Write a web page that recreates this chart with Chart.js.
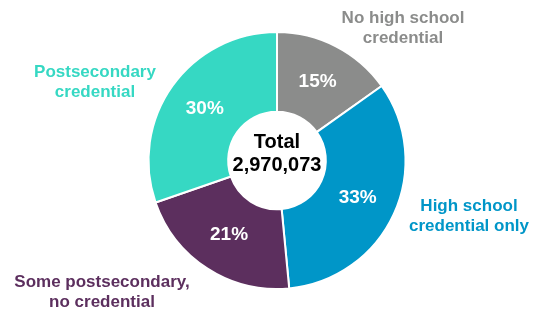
<!DOCTYPE html>
<html>
<head>
<meta charset="utf-8">
<script src="https://cdn.jsdelivr.net/npm/chart.js@4"></script>
<style>
  body { margin: 0; background: #fff; }
</style>
</head>
<body>
<canvas id="chart" width="533" height="311"></canvas>
<script>
// data
const labels = ["No high school credential", "High school credential only", "Some postsecondary, no credential", "Postsecondary credential"];
const labelLines = [["No high school", "credential"], ["High school", "credential only"], ["Some postsecondary,", "no credential"], ["Postsecondary", "credential"]];
const shares = [15, 33, 21, 30];
const colors = ["#8b8c8b", "#0096c8", "#5c2f5e", "#36d8c3"];
const totalText = ["Total", "2,970,073"];

// where each outside label sits (centre of its first line)
const labelPos = [[403, 18], [469, 206], [102, 282], [95, 72]];

const FONT = "Arial, 'Liberation Sans', sans-serif";

const textPlugin = {
  id: "texts",
  afterDatasetsDraw(chart) {
    const ctx = chart.ctx;
    const meta = chart.getDatasetMeta(0);
    ctx.save();
    ctx.textAlign = "center";
    ctx.textBaseline = "middle";

    // percentages on the slices
    ctx.font = "bold 19px " + FONT;
    ctx.fillStyle = "#fff";
    meta.data.forEach((arc, i) => {
      const p = arc.tooltipPosition();
      ctx.fillText(shares[i] + "%", p.x, p.y);
    });

    // total in the hole
    const c = meta.data[0];
    ctx.font = "bold 20px " + FONT;
    ctx.fillStyle = "#000";
    ctx.fillText(totalText[0], c.x, c.y - 18);
    ctx.fillText(totalText[1], c.x, c.y + 5);

    // category labels outside
    ctx.font = "bold 17px " + FONT;
    labelLines.forEach((lines, i) => {
      ctx.fillStyle = colors[i];
      lines.forEach((t, j) => ctx.fillText(t, labelPos[i][0], labelPos[i][1] + j * 20));
    });
    ctx.restore();
  }
};

new Chart(document.getElementById("chart"), {
  type: "doughnut",
  data: {
    labels: labels,
    datasets: [{
      data: shares,
      backgroundColor: colors,
      borderColor: "#fff",
      borderWidth: 2
    }]
  },
  options: {
    responsive: false,
    animation: false,
    cutout: "38%",
    layout: { padding: { left: 21, right: 0, top: 31, bottom: 21 } },
    plugins: {
      legend: { display: false },
      tooltip: { enabled: false }
    }
  },
  plugins: [textPlugin]
});
</script>
</body>
</html>
